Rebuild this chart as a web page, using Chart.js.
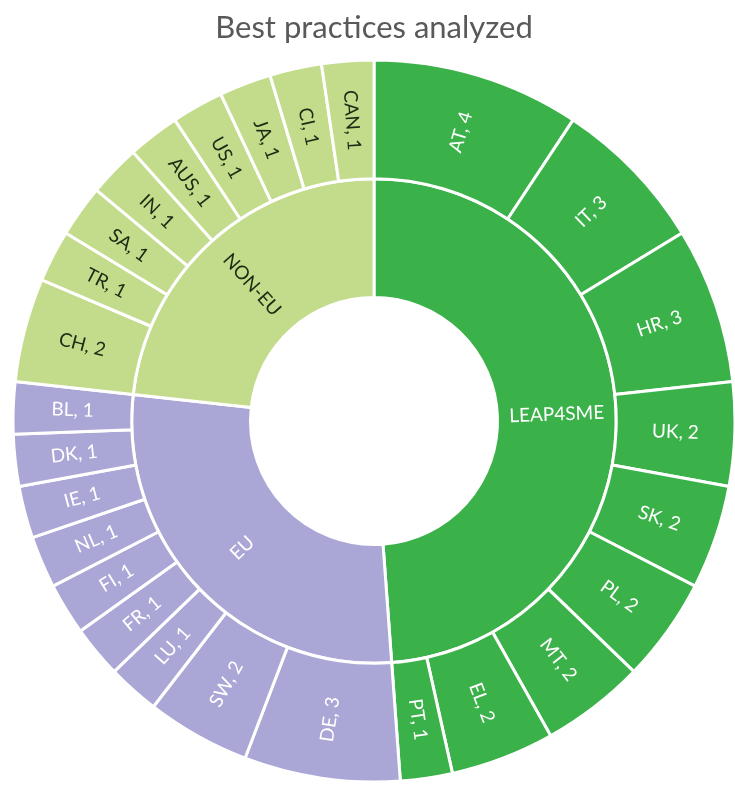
<!DOCTYPE html>
<html>
<head>
<meta charset="utf-8">
<script src="https://cdn.jsdelivr.net/npm/chart.js@4"></script>
<style>
  html, body { margin: 0; padding: 0; background: #ffffff; }
  #wrap { width: 735px; height: 786px; }
</style>
</head>
<body>
<div id="wrap"><canvas id="c" width="735" height="786"></canvas></div>
<script>
// ---- data ----
const titleText = 'Best practices analyzed';
const groups = ['LEAP4SME', 'EU', 'NON-EU'];
const groupTotals = [21, 12, 10];
const countries = ['AT', 'IT', 'HR', 'UK', 'SK', 'PL', 'MT', 'EL', 'PT',
                   'DE', 'SW', 'LU', 'FR', 'FI', 'NL', 'IE', 'DK', 'BL',
                   'CH', 'TR', 'SA', 'IN', 'AUS', 'US', 'JA', 'CI', 'CAN'];
const countryCounts = [4, 3, 3, 2, 2, 2, 2, 2, 1,
                       3, 2, 1, 1, 1, 1, 1, 1, 1,
                       2, 1, 1, 1, 1, 1, 1, 1, 1];
const countryGroup = [0, 0, 0, 0, 0, 0, 0, 0, 0,
                      1, 1, 1, 1, 1, 1, 1, 1, 1,
                      2, 2, 2, 2, 2, 2, 2, 2, 2];

// ---- styles ----
const groupColors = ['#3bb14a', '#aaa6d6', '#c3dc8b'];
const groupTextColors = ['#ffffff', '#ffffff', '#1e2a14'];
const labelFont = '19px Lato, "Open Sans", sans-serif';

const sliceLabels = {
  id: 'sliceLabels',
  afterDatasetsDraw(chart) {
    const ctx = chart.ctx;
    chart.data.datasets.forEach((ds, di) => {
      const meta = chart.getDatasetMeta(di);
      meta.data.forEach((arc, i) => {
        const p = arc.getProps(['x', 'y', 'startAngle', 'endAngle', 'innerRadius', 'outerRadius'], true);
        const mid = (p.startAngle + p.endAngle) / 2;
        const r = (p.innerRadius + p.outerRadius) / 2;
        ctx.save();
        ctx.translate(p.x + Math.cos(mid) * r, p.y + Math.sin(mid) * r);
        let rot = mid;
        if (Math.cos(mid) < -1e-6) rot += Math.PI;
        ctx.rotate(rot);
        ctx.font = labelFont;
        ctx.fillStyle = ds.textColors[i];
        ctx.textAlign = 'center';
        ctx.textBaseline = 'middle';
        ctx.fillText(ds.sliceText[i], 0, 0);
        ctx.restore();
      });
    });
  }
};

new Chart(document.getElementById('c'), {
  type: 'doughnut',
  data: {
    labels: countries,
    datasets: [
      {
        label: 'Countries',
        data: countryCounts,
        backgroundColor: countryGroup.map(g => groupColors[g]),
        textColors: countryGroup.map(g => groupTextColors[g]),
        sliceText: countries.map((c, i) => c + ', ' + countryCounts[i]),
        borderColor: '#ffffff',
        borderWidth: 3
      },
      {
        label: 'Groups',
        data: groupTotals,
        backgroundColor: groupColors,
        textColors: groupTextColors,
        sliceText: groups,
        borderColor: '#ffffff',
        borderWidth: 3
      }
    ]
  },
  options: {
    responsive: false,
    animation: false,
    events: [],
    radius: 361,
    cutout: 123,
    hoverOffset: 0,
    layout: { padding: { left: 13, right: 0, top: 0, bottom: 4 } },
    plugins: {
      legend: { display: false },
      tooltip: { enabled: false },
      title: {
        display: true,
        text: titleText,
        color: '#595959',
        font: { family: 'Lato, "Open Sans", sans-serif', size: 31, weight: 'normal', lineHeight: 1.2 },
        padding: { top: 9, bottom: 13.8 }
      }
    }
  },
  plugins: [sliceLabels]
});
</script>
</body>
</html>
